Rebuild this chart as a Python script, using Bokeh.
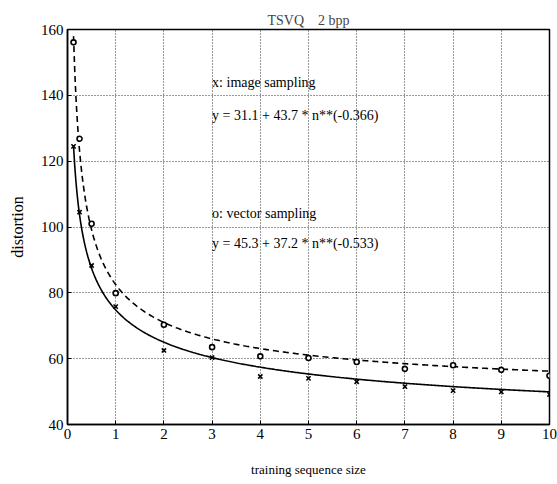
import numpy as np
from bokeh.plotting import figure
from bokeh.models import Range1d, FixedTicker, ColumnDataSource
from bokeh.core.properties import value
from bokeh.embed import file_html
from bokeh.resources import INLINE

# data
n_size = [0.125, 0.25, 0.5, 1, 2, 3, 4, 5, 6, 7, 8, 9, 10]
image_sampling = [124.5, 104.5, 88.3, 75.8, 62.5, 60.3, 54.6, 54.0, 53.0, 51.5, 50.3, 49.9, 49.1]
vector_sampling = [156.1, 126.8, 101.0, 79.9, 70.3, 63.5, 60.7, 60.2, 59.0, 56.9, 58.0, 56.6, 54.8]

# fitted model coefficients printed on the chart
image_fit = (31.1, 43.7, -0.366)
vector_fit = (45.3, 37.2, -0.533)

x_ticks = [0, 1, 2, 3, 4, 5, 6, 7, 8, 9, 10]
y_ticks = [40, 60, 80, 100, 120, 140, 160]

title_text = "TSVQ\u00a0\u00a0\u00a0 2 bpp"
x_label = "training sequence size"
y_label = "distortion"
notes = ["x: image sampling", "y = 31.1 + 43.7 * n**(-0.366)",
         "o: vector sampling", "y = 45.3 + 37.2 * n**(-0.533)"]
note_x = [3.0, 3.0, 3.0, 3.0]
note_y = [143.9, 133.9, 104.1, 95.0]

FONT = "Liberation Serif"

p = figure(width=557, height=482, output_backend="svg", toolbar_location=None,
           x_range=Range1d(0, 10), y_range=Range1d(40, 160),
           min_border_left=67, min_border_right=8, min_border_top=29, min_border_bottom=58,
           title=title_text)

p.title.text_font = FONT
p.title.text_font_style = "normal"
p.title.text_font_size = "14px"
p.title.align = "center"
p.title.standoff = 3

p.outline_line_color = "black"
p.outline_line_width = 1.5
p.background_fill_color = "white"
p.border_fill_color = "white"

for ax in (p.xaxis[0], p.yaxis[0]):
    ax.axis_line_color = "black"
    ax.axis_line_width = 1.5
    ax.major_tick_in = 4
    ax.major_tick_out = 0
    ax.minor_tick_in = 0
    ax.minor_tick_out = 0
    ax.major_label_text_font = FONT
    ax.major_label_text_font_size = "15px"
    ax.major_label_text_color = "black"
    ax.axis_label_text_font = FONT
    ax.axis_label_text_font_style = "normal"
    ax.axis_label_text_color = "black"

p.xaxis.axis_label_text_font_size = "13px"
p.yaxis.axis_label_text_font_size = "16px"
p.xaxis.ticker = FixedTicker(ticks=x_ticks)
p.yaxis.ticker = FixedTicker(ticks=y_ticks)
p.xaxis.axis_label = x_label
p.yaxis.axis_label = y_label
p.xaxis.major_label_standoff = 4
p.yaxis.major_label_standoff = 4
p.xaxis.axis_label_standoff = 20
p.yaxis.axis_label_standoff = 12

p.xgrid.ticker = FixedTicker(ticks=x_ticks[1:-1])
p.ygrid.ticker = FixedTicker(ticks=y_ticks[1:-1])
for g in (p.xgrid[0], p.ygrid[0]):
    g.grid_line_color = "black"
    g.grid_line_dash = "1 2"
    g.grid_line_width = 1
    g.grid_line_alpha = 0.8

# fitted curves
nn = np.linspace(n_size[0], n_size[-1], 400)
a, b, c = image_fit
p.line(nn, a + b * nn ** c, line_color="black", line_width=1.6)
a, b, c = vector_fit
p.line(nn, a + b * nn ** c, line_color="black", line_width=1.6, line_dash="6 4")

src = ColumnDataSource(dict(n=n_size, img=image_sampling, vec=vector_sampling))
p.scatter("n", "img", source=src, marker="x", size=6, line_color="black", line_width=1.6)
p.scatter("n", "vec", source=src, marker="circle", size=5, line_color="black",
          fill_color="white", line_width=1.6)

p.text(x=note_x, y=note_y, text=notes, text_font=value(FONT), text_font_size="14px",
       text_baseline="middle", text_align="left", text_color="black")

open("out.html", "w").write(file_html(p, INLINE))
